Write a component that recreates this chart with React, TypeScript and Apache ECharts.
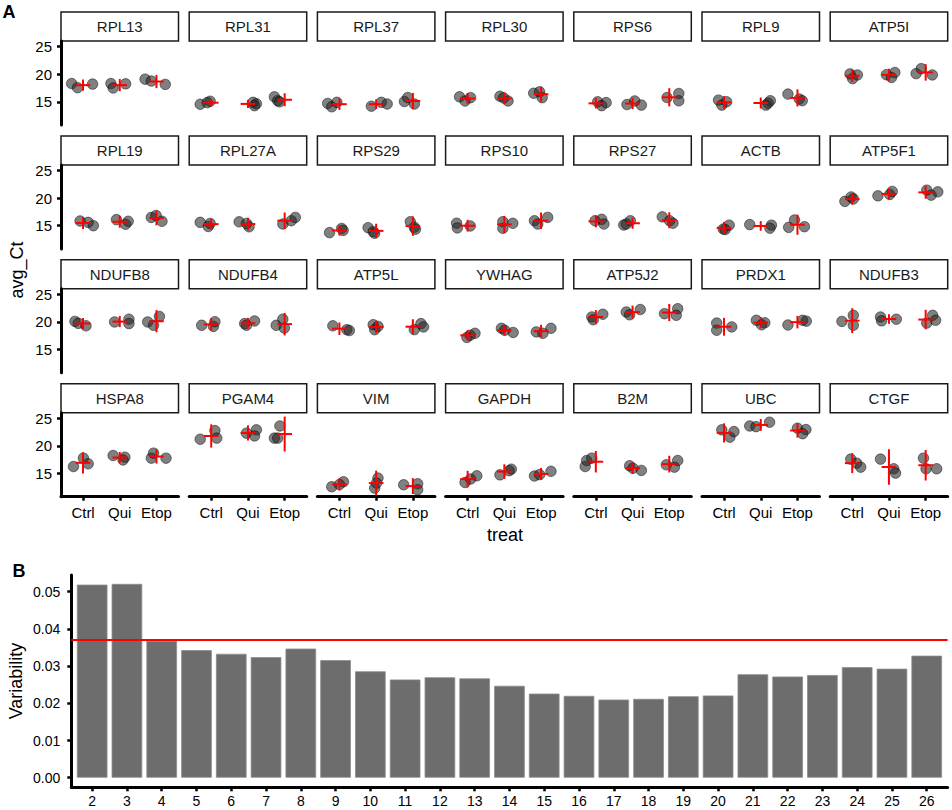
import React, { useEffect, useRef } from "react";
import * as echarts from "echarts";

// ---------- data ----------
const genes = [
  "RPL13", "RPL31", "RPL37", "RPL30", "RPS6", "RPL9", "ATP5I",
  "RPL19", "RPL27A", "RPS29", "RPS10", "RPS27", "ACTB", "ATP5F1",
  "NDUFB8", "NDUFB4", "ATP5L", "YWHAG", "ATP5J2", "PRDX1", "NDUFB3",
  "HSPA8", "PGAM4", "VIM", "GAPDH", "B2M", "UBC", "CTGF",
];
const treatments = ["Ctrl", "Qui", "Etop"];

// avg_Ct per gene: [Ctrl[3], Qui[3], Etop[3]]
const ctValues: number[][][] = [
  [[18.3, 17.55, 18.2], [18.3, 17.5, 18.25], [19.1, 18.75, 18.15]],
  [[14.55, 14.85, 15.1], [14.9, 14.65, 14.3], [15.9, 15.2, 15.0]],
  [[14.7, 14.1, 14.9], [14.2, 14.9, 14.6], [15.05, 15.77, 14.6]],
  [[15.9, 15.15, 15.75], [16.0, 15.15, 15.7], [16.55, 16.8, 15.75]],
  [[15.0, 14.3, 14.85], [14.5, 15.15, 14.4], [15.77, 16.5, 15.18]],
  [[15.3, 14.4, 15.0], [14.4, 15.2, 14.75], [16.4, 15.5, 15.2]],
  [[20.05, 19.2, 19.85], [19.9, 19.4, 20.3], [20.1, 21.0, 19.86]],
  [[15.85, 15.6, 15.0], [16.1, 15.25, 15.8], [16.5, 16.85, 15.8]],
  [[15.6, 14.85, 15.4], [15.7, 14.8, 15.4], [15.3, 15.9, 16.5]],
  [[13.75, 14.5, 14.15], [14.64, 13.92, 13.63], [15.72, 14.71, 14.35]],
  [[15.45, 14.6, 14.95], [15.72, 15.43, 14.53], [15.9, 16.5, 15.3]],
  [[15.9, 16.15, 15.3], [15.13, 15.9, 15.3], [16.6, 15.9, 15.45]],
  [[14.4, 15.1, 14.3], [15.2, 15.1, 14.55], [14.7, 16.03, 14.82]],
  [[19.4, 20.2, 19.85], [20.4, 20.65, 21.2], [21.43, 20.53, 21.13]],
  [[20.1, 19.75, 19.3], [20.0, 20.5, 19.7], [20.0, 19.4, 21.0]],
  [[19.4, 19.2, 20.05], [19.7, 20.18, 19.4], [19.4, 20.5, 18.9]],
  [[19.3, 18.6, 18.45], [19.5, 19.2, 18.6], [18.62, 19.7, 19.1]],
  [[17.2, 17.6, 17.95], [18.85, 18.1, 18.5], [18.2, 18.85, 17.95]],
  [[20.9, 21.4, 20.4], [21.8, 22.25, 21.3], [21.5, 22.4, 21.2]],
  [[19.8, 18.5, 19.1], [20.3, 19.85, 19.5], [19.45, 20.3, 20.15]],
  [[20.1, 21.2, 19.4], [20.9, 20.5, 20.2], [21.2, 20.3, 19.8]],
  [[16.26, 17.78, 16.75], [18.25, 17.95, 17.45], [17.78, 18.68, 17.78]],
  [[21.2, 22.76, 21.4], [22.3, 22.9, 21.8], [21.4, 21.4, 23.6]],
  [[12.6, 13.5, 13.0], [12.36, 14.17, 13.26], [12.96, 13.14, 12.06]],
  [[13.37, 14.0, 14.58], [14.75, 15.78, 15.5], [14.55, 15.4, 14.8]],
  [[16.26, 17.35, 17.78], [16.4, 15.95, 15.55], [16.57, 16.15, 17.35]],
  [[22.9, 21.57, 22.58], [23.6, 23.48, 24.28], [23.2, 22.95, 22.2]],
  [[17.6, 16.87, 16.15], [17.6, 15.85, 15.07], [17.78, 15.85, 15.85]],
];

// horizontal jitter (in category units)
const jitterX: number[][][] = [
  [[-0.31, -0.15, 0.26], [-0.24, -0.18, 0.16], [-0.31, -0.14, 0.24]],
  [[-0.3, -0.11, -0.03], [0.14, 0.23, 0.18], [-0.28, -0.19, -0.14]],
  [[-0.32, -0.21, -0.07], [-0.13, 0.14, 0.3], [-0.23, -0.14, 0.04]],
  [[-0.22, -0.07, 0.08], [-0.12, 0.1, -0.02], [-0.2, -0.04, 0.03]],
  [[0.05, 0.16, 0.28], [-0.15, 0.06, 0.24], [-0.06, 0.26, 0.26]],
  [[-0.15, -0.06, 0.07], [0.14, 0.26, 0.2], [-0.26, 0.05, 0.13]],
  [[-0.06, 0.01, 0.14], [-0.07, 0.07, 0.16], [-0.26, -0.12, 0.18]],
  [[-0.08, 0.14, 0.28], [-0.09, 0.16, 0.23], [-0.14, -0.01, 0.15]],
  [[-0.3, -0.08, -0.03], [-0.24, 0.03, -0.04], [-0.05, 0.18, 0.29]],
  [[-0.27, 0.06, 0.1], [-0.22, -0.08, -0.04], [-0.07, 0.04, 0.07]],
  [[-0.3, -0.28, 0.07], [-0.04, 0.23, -0.04], [-0.18, 0.18, -0.09]],
  [[-0.02, 0.16, 0.22], [-0.24, -0.06, -0.17], [-0.19, 0.01, 0.1]],
  [[-0.02, 0.14, 0.03], [-0.3, 0.29, 0.25], [-0.24, -0.08, 0.19]],
  [[-0.2, -0.03, 0.03], [-0.3, 0.02, 0.09], [0.03, 0.15, 0.33]],
  [[-0.22, -0.13, 0.08], [-0.14, 0.25, 0.25], [-0.24, -0.08, 0.08]],
  [[-0.26, 0.06, 0.1], [-0.09, 0.18, -0.04], [-0.23, -0.05, -0.01]],
  [[-0.18, 0.2, 0.27], [-0.08, 0.05, -0.04], [0.04, 0.22, 0.29]],
  [[-0.02, 0.07, 0.2], [-0.08, 0.24, 0.01], [-0.13, 0.27, 0.05]],
  [[-0.11, 0.19, -0.07], [-0.17, 0.21, -0.08], [-0.13, 0.23, 0.19]],
  [[-0.2, -0.2, 0.21], [-0.12, 0.11, 0.02], [-0.26, 0.14, 0.24]],
  [[-0.28, 0.03, 0.03], [-0.23, 0.2, -0.2], [0.19, 0.27, 0.03]],
  [[-0.26, 0.01, 0.14], [-0.18, 0.14, 0.09], [-0.14, -0.08, 0.26]],
  [[-0.3, 0.1, 0.15], [-0.04, 0.23, 0.18], [-0.28, -0.19, -0.13]],
  [[-0.21, 0.11, 0.0], [-0.04, 0.05, 0.01], [-0.25, 0.13, 0.13]],
  [[-0.07, 0.08, 0.25], [-0.12, 0.19, 0.13], [-0.18, 0.27, -0.04]],
  [[-0.29, -0.25, -0.11], [-0.08, 0.01, 0.24], [-0.08, 0.14, 0.23]],
  [[-0.06, 0.16, 0.27], [-0.3, -0.13, 0.24], [0.0, 0.23, 0.14]],
  [[-0.04, 0.12, 0.23], [-0.23, 0.13, 0.18], [-0.06, 0.01, 0.3]],
];

const ctTicks = [15, 20, 25];
const ctMin = 10.8;
const ctMax = 26.0;

const componentCounts = [2, 3, 4, 5, 6, 7, 8, 9, 10, 11, 12, 13, 14, 15, 16, 17, 18, 19, 20, 21, 22, 23, 24, 25, 26];
const variability = [
  0.0519, 0.0521, 0.0368, 0.0343, 0.0333, 0.0324, 0.0347, 0.0316, 0.0286, 0.0264, 0.027, 0.0267, 0.0247,
  0.0226, 0.022, 0.021, 0.0212, 0.0219, 0.0221, 0.0278, 0.0272, 0.0276, 0.0297, 0.0293, 0.0328,
];
const variabilityThreshold = 0.037;
const variabilityTicks = [0, 0.01, 0.02, 0.03, 0.04, 0.05];

// ---------- helpers ----------
const T_975_DF2 = 4.302653;
function meanCl(vals: number[]) {
  const n = vals.length;
  const m = vals.reduce((a, b) => a + b, 0) / n;
  const sd = Math.sqrt(vals.reduce((a, b) => a + (b - m) * (b - m), 0) / (n - 1));
  const half = (T_975_DF2 * sd) / Math.sqrt(n);
  return [m, m - half, m + half];
}

const FONT = "'Liberation Sans', Arial, Helvetica, sans-serif";

function buildOption() {
  const grid: any[] = [];
  const xAxis: any[] = [];
  const yAxis: any[] = [];
  const series: any[] = [];
  const graphic: any[] = [];

  const COL0 = 61, COLP = 128.2, PW = 117.5;
  const ROW0 = 41, ROWP = 123.9, PH = 84, SH = 29;

  const axisLineStyle = { color: "#000", width: 3 };
  const tickStyle = { color: "#000", width: 2.5 };

  genes.forEach((g, i) => {
    const r = Math.floor(i / 7);
    const c = i % 7;
    const left = COL0 + COLP * c;
    const top = ROW0 + ROWP * r;
    grid.push({ left, top, width: PW, height: PH });

    xAxis.push({
      type: "value",
      gridIndex: i,
      min: 0.4,
      max: 3.6,
      show: r === 3,
      splitLine: { show: false },
      axisLine: { show: true, onZero: false, lineStyle: axisLineStyle },
      axisTick: { show: true, customValues: [1, 2, 3], length: 4, lineStyle: tickStyle },
      axisLabel: {
        customValues: [1, 2, 3],
        formatter: (v: number) => treatments[Math.round(v) - 1],
        color: "#000",
        fontSize: 15,
        fontFamily: FONT,
        margin: 8,
      },
    });
    yAxis.push({
      type: "value",
      gridIndex: i,
      min: ctMin,
      max: ctMax,
      show: c === 0,
      splitLine: { show: false },
      axisLine: { show: true, onZero: false, lineStyle: axisLineStyle },
      axisTick: { show: true, customValues: ctTicks, length: 4, lineStyle: tickStyle },
      axisLabel: { customValues: ctTicks, color: "#000", fontSize: 15, fontFamily: FONT, margin: 9 },
    });

    const pts: number[][] = [];
    const summ: number[][] = [];
    ctValues[i].forEach((vals, t) => {
      vals.forEach((v, k) => pts.push([t + 1 + jitterX[i][t][k], v]));
      const [m, lo, hi] = meanCl(vals);
      summ.push([t + 1, m, lo, hi]);
    });

    series.push({
      type: "scatter",
      xAxisIndex: i,
      yAxisIndex: i,
      data: pts,
      symbol: "circle",
      symbolSize: 10.5,
      itemStyle: { color: "rgba(35,35,35,0.72)", borderColor: "rgba(0,0,0,0.75)", borderWidth: 0.8 },
      silent: true,
      z: 2,
    });
    series.push({
      type: "custom",
      xAxisIndex: i,
      yAxisIndex: i,
      data: summ,
      silent: true,
      z: 3,
      encode: { x: 0, y: 1 },
      renderItem: (params: any, api: any) => {
        const x = api.value(0), m = api.value(1), lo = api.value(2), hi = api.value(3);
        const pL = api.coord([x - 0.2, m]);
        const pR = api.coord([x + 0.2, m]);
        const pT = api.coord([x, hi]);
        const pB = api.coord([x, lo]);
        const st = { stroke: "#ff0000", lineWidth: 2 };
        return {
          type: "group",
          children: [
            { type: "line", shape: { x1: pL[0], y1: pL[1], x2: pR[0], y2: pR[1] }, style: st },
            { type: "line", shape: { x1: pT[0], y1: pT[1], x2: pB[0], y2: pB[1] }, style: st },
          ],
        };
      },
    });

    graphic.push({
      type: "rect",
      shape: { x: left, y: top - SH, width: PW, height: SH },
      style: { fill: "#ffffff", stroke: "#1a1a1a", lineWidth: 1.5 },
      silent: true,
    });
    graphic.push({
      type: "text",
      x: left + PW / 2,
      y: top - SH / 2,
      style: {
        text: g,
        fill: "#1a1a1a",
        fontSize: 15,
        fontFamily: FONT,
        align: "center",
        verticalAlign: "middle",
        textAlign: "center",
        textVerticalAlign: "middle",
      },
      silent: true,
    });
  });

  // ---- panel B ----
  const bi = genes.length;
  grid.push({ left: 71.3, top: 575, width: 876.3, height: 212.3 });
  xAxis.push({
    type: "value",
    gridIndex: bi,
    min: 1.4,
    max: 26.6,
    splitLine: { show: false },
    axisLine: { show: true, onZero: false, lineStyle: axisLineStyle },
    axisTick: { show: true, customValues: componentCounts, length: 4, lineStyle: tickStyle },
    axisLabel: { customValues: componentCounts, color: "#000", fontSize: 14, fontFamily: FONT, margin: 7 },
  });
  yAxis.push({
    type: "value",
    gridIndex: bi,
    min: -0.00258,
    max: 0.05449,
    splitLine: { show: false },
    axisLine: { show: true, onZero: false, lineStyle: axisLineStyle },
    axisTick: { show: true, customValues: variabilityTicks, length: 4, lineStyle: tickStyle },
    axisLabel: {
      customValues: variabilityTicks,
      formatter: (v: number) => v.toFixed(2),
      color: "#000",
      fontSize: 14,
      fontFamily: FONT,
      margin: 11,
    },
  });
  series.push({
    type: "bar",
    xAxisIndex: bi,
    yAxisIndex: bi,
    data: componentCounts.map((c, k) => [c, variability[k]]),
    barWidth: 30.6,
    itemStyle: { color: "#6d6d6d", borderColor: "#8c8c8c", borderWidth: 0.8 },
    silent: true,
    markLine: {
      silent: true,
      precision: 6,
      symbol: ["none", "none"],
      label: { show: false },
      lineStyle: { color: "#ff0000", width: 2, type: "solid" },
      data: [{ yAxis: variabilityThreshold }],
    },
  });

  const titleStyle = (text: string, size: number, bold = false) => ({
    text,
    fill: "#000",
    fontSize: size,
    fontWeight: bold ? "bold" : "normal",
    fontFamily: FONT,
    align: "center",
    verticalAlign: "middle",
    textAlign: "center",
    textVerticalAlign: "middle",
  });
  graphic.push({ type: "text", x: 9, y: 12, style: titleStyle("A", 18, true), silent: true });
  graphic.push({ type: "text", x: 19, y: 571, style: titleStyle("B", 18, true), silent: true });
  graphic.push({ type: "text", x: 17, y: 270, rotation: Math.PI / 2, style: titleStyle("avg_Ct", 18), silent: true });
  graphic.push({ type: "text", x: 505, y: 535, style: titleStyle("treat", 18), silent: true });
  graphic.push({ type: "text", x: 16, y: 681, rotation: Math.PI / 2, style: titleStyle("Variability", 18), silent: true });

  return {
    animation: false,
    backgroundColor: "#ffffff",
    textStyle: { fontFamily: FONT },
    grid,
    xAxis,
    yAxis,
    series,
    graphic: { elements: graphic },
  };
}

export default function App() {
  const ref = useRef<HTMLDivElement | null>(null);
  useEffect(() => {
    if (!ref.current) return;
    const chart = echarts.init(ref.current, undefined, { renderer: "svg" });
    chart.setOption(buildOption() as any);
    return () => chart.dispose();
  }, []);
  return (
    <div
      ref={ref}
      style={{ position: "absolute", left: 0, top: 0, width: 952, height: 810, background: "#fff" }}
    />
  );
}
